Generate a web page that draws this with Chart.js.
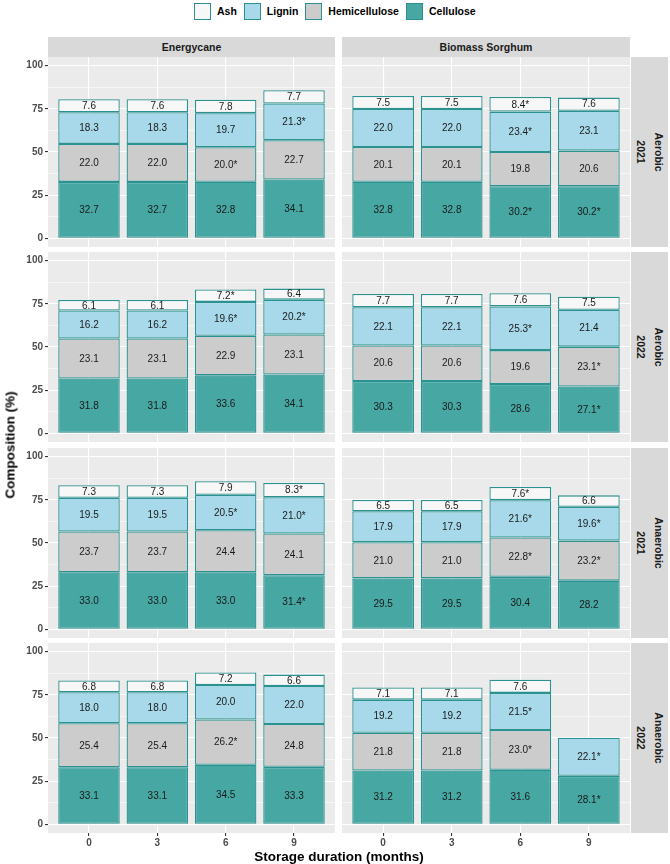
<!DOCTYPE html>
<html><head><meta charset="utf-8">
<script src="https://cdn.jsdelivr.net/npm/chart.js@4.4.0/dist/chart.umd.min.js"></script>
<style>
html,body{margin:0;padding:0;background:#fff;}
body{width:670px;height:864px;position:relative;overflow:hidden;font-family:"Liberation Sans",Arial,sans-serif;}
canvas{position:absolute;}
.strip{position:absolute;background:#D9D9D9;color:#1A1A1A;font-weight:bold;font-size:10.5px;}
.strip.top{display:flex;align-items:center;justify-content:center;}
.strip .rot{position:absolute;left:50%;top:50%;transform:translate(-50%,-50%) rotate(90deg);white-space:nowrap;text-align:center;line-height:18px;}
.title{position:absolute;font-weight:bold;font-size:13.5px;color:#000;white-space:nowrap;}
#legend{position:absolute;left:194px;top:2px;display:flex;align-items:center;height:18px;}
#legend .box{width:15px;height:15px;border:1.3px solid #2A9290;margin-right:6px;}
#legend .lab{font-weight:bold;font-size:10.5px;color:#000;margin-right:7px;}
</style></head><body>
<div id="legend"></div>
<script>
// ---------------- data ----------------
const months = [0, 3, 6, 9];
const species = ['Energycane', 'Biomass Sorghum'];
const treatments = ['Aerobic', 'Aerobic', 'Anaerobic', 'Anaerobic'];
const years = ['2021', '2022', '2021', '2022'];
const legendOrder = ['Ash', 'Lignin', 'Hemicellulose', 'Cellulose'];
const yTicks = [0, 25, 50, 75, 100];
// panels in row order: [Energycane, Biomass Sorghum] for each treatment/year row
const cellulose = [
  [32.7, 32.7, 32.8, 34.1], [32.8, 32.8, 30.2, 30.2],
  [31.8, 31.8, 33.6, 34.1], [30.3, 30.3, 28.6, 27.1],
  [33.0, 33.0, 33.0, 31.4], [29.5, 29.5, 30.4, 28.2],
  [33.1, 33.1, 34.5, 33.3], [31.2, 31.2, 31.6, 28.1]
];
const hemicellulose = [
  [22.0, 22.0, 20.0, 22.7], [20.1, 20.1, 19.8, 20.6],
  [23.1, 23.1, 22.9, 23.1], [20.6, 20.6, 19.6, 23.1],
  [23.7, 23.7, 24.4, 24.1], [21.0, 21.0, 22.8, 23.2],
  [25.4, 25.4, 26.2, 24.8], [21.8, 21.8, 23.0, null]
];
const lignin = [
  [18.3, 18.3, 19.7, 21.3], [22.0, 22.0, 23.4, 23.1],
  [16.2, 16.2, 19.6, 20.2], [22.1, 22.1, 25.3, 21.4],
  [19.5, 19.5, 20.5, 21.0], [17.9, 17.9, 21.6, 19.6],
  [18.0, 18.0, 20.0, 22.0], [19.2, 19.2, 21.5, 22.1]
];
const ash = [
  [7.6, 7.6, 7.8, 7.7], [7.5, 7.5, 8.4, 7.6],
  [6.1, 6.1, 7.2, 6.4], [7.7, 7.7, 7.6, 7.5],
  [7.3, 7.3, 7.9, 8.3], [6.5, 6.5, 7.6, 6.6],
  [6.8, 6.8, 7.2, 6.6], [7.1, 7.1, 7.6, null]
];
// significance markers (1 = "*")
const celluloseSig = [
  [0,0,0,0],[0,0,1,1],[0,0,0,0],[0,0,0,1],
  [0,0,0,1],[0,0,0,0],[0,0,0,0],[0,0,0,1]
];
const hemicelluloseSig = [
  [0,0,1,0],[0,0,0,0],[0,0,0,0],[0,0,0,1],
  [0,0,0,0],[0,0,1,1],[0,0,1,0],[0,0,1,0]
];
const ligninSig = [
  [0,0,0,1],[0,0,1,0],[0,0,1,1],[0,0,1,0],
  [0,0,1,1],[0,0,1,1],[0,0,0,0],[0,0,1,1]
];
const ashSig = [
  [0,0,0,0],[0,0,1,0],[0,0,1,0],[0,0,0,0],
  [0,0,0,1],[0,0,1,0],[0,0,0,0],[0,0,0,0]
];

// ---------------- styling ----------------
const FONT = '"Liberation Sans", Arial, sans-serif';
const fills = {Cellulose:'#46A7A3', Hemicellulose:'#CCCCCC', Lignin:'#A7D9EA', Ash:'#F7F7F7'};
const edge = '#2A9290';
const series = [
  {name:'Cellulose', vals:cellulose, sig:celluloseSig},
  {name:'Hemicellulose', vals:hemicellulose, sig:hemicelluloseSig},
  {name:'Lignin', vals:lignin, sig:ligninSig},
  {name:'Ash', vals:ash, sig:ashSig}
];
const colLeft = [48, 342], colWidth = [287, 288];
const rowTop = [57, 252, 448, 643], panelH = 190, xAxisH = 18, yAxisW = 48;
const gridVals = yTicks.concat(yTicks.slice(1).map((v,i)=>(v+yTicks[i])/2)).sort((a,b)=>a-b);

// legend
const lg = document.getElementById('legend');
legendOrder.forEach(n=>{
  const b=document.createElement('div'); b.className='box'; b.style.background=fills[n]; lg.appendChild(b);
  const t=document.createElement('div'); t.className='lab'; t.textContent=n; lg.appendChild(t);
});

function addDiv(cls, css, html){
  const d=document.createElement('div'); d.className=cls; Object.assign(d.style, css); d.innerHTML=html; document.body.appendChild(d); return d;
}
// top strips
species.forEach((s,c)=>addDiv('strip top',{left:colLeft[c]+'px',top:'37px',width:colWidth[c]+'px',height:'20px'}, s));
// right strips
treatments.forEach((t,r)=>addDiv('strip',{left:'631px',top:rowTop[r]+'px',width:'37px',height:panelH+'px'}, '<div class="rot">'+t+'<br>'+years[r]+'</div>'));

const bgPlugin = {id:'panelBg', beforeDraw(chart){
  const {ctx, chartArea:a} = chart; ctx.save(); ctx.fillStyle='#EBEBEB'; ctx.fillRect(a.left,a.top,a.right-a.left,a.bottom-a.top); ctx.restore();
}};
const labelPlugin = {id:'segLabels', afterDatasetsDraw(chart){
  const ctx = chart.ctx; ctx.save();
  ctx.font = '10px ' + FONT; ctx.fillStyle = '#1A1A1A'; ctx.textAlign='center'; ctx.textBaseline='middle';
  chart.data.datasets.forEach((ds, di)=>{
    const meta = chart.getDatasetMeta(di);
    meta.data.forEach((el, i)=>{
      const v = ds.data[i].y; if (v === null || v === undefined) return;
      const txt = v.toFixed(1) + (ds.sig[i] ? '*' : '');
      ctx.fillText(txt, el.x, (el.y + el.base)/2 + 0.5);
    });
  });
  ctx.restore();
}};
function noPad(s){ s.paddingTop=0; s.paddingBottom=0; s.paddingLeft=0; s.paddingRight=0; }

for (let r=0;r<4;r++) for (let c=0;c<2;c++){
  const p = r*2+c, isLeft = c===0, isBottom = r===3;
  const cv = document.createElement('canvas');
  const left = isLeft ? 0 : colLeft[c];
  const w = isLeft ? colLeft[0]+colWidth[0] : colWidth[c];
  const h = panelH + (isBottom ? xAxisH : 0);
  cv.width=w; cv.height=h; cv.style.left=left+'px'; cv.style.top=rowTop[r]+'px';
  document.body.appendChild(cv);
  new Chart(cv, {
    type:'bar',
    data:{datasets: series.map(s=>({
      label:s.name,
      data: months.map((m,i)=>({x:m, y:s.vals[p][i]})),
      sig: s.sig[p],
      backgroundColor: fills[s.name], borderColor: edge, borderWidth:1.3, borderSkipped:false,
      barPercentage:0.9, categoryPercentage:1.0
    }))},
    options:{
      responsive:false, animation:false, devicePixelRatio:1,
      layout:{padding:0},
      plugins:{legend:{display:false}, tooltip:{enabled:false}},
      scales:{
        x:{type:'linear', stacked:true, min:-1.8, max:10.8, bounds:'data', offset:false,
          afterBuildTicks:s=>{s.ticks = months.map(v=>({value:v}));},
          afterFit:s=>{s.height = isBottom ? xAxisH : 0; noPad(s);},
          grid:{offset:false, color:'#FFFFFF', lineWidth:1.1, drawTicks:isBottom, tickLength:3, tickColor:'#333333'},
          border:{display:false},
          ticks:{display:isBottom, padding:1, color:'#4D4D4D', font:{family:FONT,size:10,weight:'bold'}, maxRotation:0, autoSkip:false, callback:v=>String(v)}
        },
        y:{type:'linear', stacked:true, min:-5, max:105, bounds:'data',
          afterBuildTicks:s=>{s.ticks = gridVals.map(v=>({value:v}));},
          afterFit:s=>{s.width = isLeft ? yAxisW : 0; noPad(s);},
          grid:{offset:false, color:'#FFFFFF', lineWidth:ctx=>(ctx.tick && yTicks.includes(ctx.tick.value)) ? 1.1 : 0.55,
                drawTicks:isLeft, tickLength:3,
                tickColor:ctx=>(ctx.tick && yTicks.includes(ctx.tick.value)) ? '#333333' : 'rgba(0,0,0,0)'},
          border:{display:false},
          ticks:{display:isLeft, padding:2, color:'#4D4D4D', font:{family:FONT,size:10,weight:'bold'}, autoSkip:false, callback:v=>yTicks.includes(v) ? String(v) : ''}
        }
      }
    },
    plugins:[bgPlugin, labelPlugin]
  });
}

// axis titles
addDiv('title',{left:'10px',top:'445px',transform:'translate(-50%,-50%) rotate(-90deg)'}, 'Composition (%)');
addDiv('title',{left:'339px',top:'856px',transform:'translate(-50%,-50%)'}, 'Storage duration (months)');
</script>
</body></html>
